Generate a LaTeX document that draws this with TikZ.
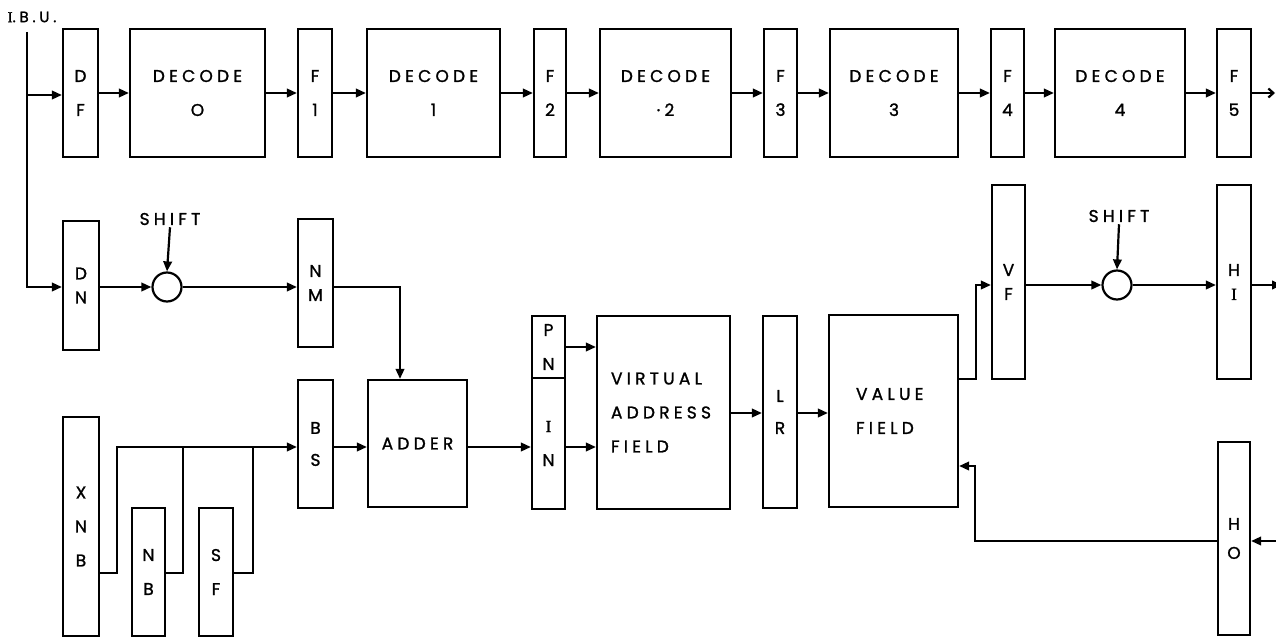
\documentclass[tikz,border=0pt]{standalone}
\usepackage{fontspec}
\newfontfamily\lab[FakeBold=1.3]{Poppins}
\newfontfamily\labs[LetterSpace=25,FakeBold=1.3]{Poppins}
\newfontfamily\serI[FakeBold=1.3]{Liberation Serif}
\usetikzlibrary{arrows.meta}
\begin{document}
\begin{tikzpicture}[x=1pt,y=-1pt,
  wire/.style={line width=2.2pt},
  arr/.style={wire,-{Triangle[length=10pt,width=8.5pt]}},
  blk/.style={draw, line width=2.2pt, inner sep=0pt, align=center, font=\lab\fontsize{17}{34}\selectfont},
  sp24/.style={font=\lab\fontsize{17}{24}\selectfont},
  sp29/.style={font=\lab\fontsize{17}{29}\selectfont},
  sp32/.style={font=\lab\fontsize{17}{32}\selectfont},
  word/.style={font=\labs\fontsize{17}{34}\selectfont},
  junc/.style={draw, circle, line width=2.2pt, minimum size=29pt, inner sep=0pt},
  lbl/.style={font=\labs\fontsize{17}{19}\selectfont, inner sep=2pt}
]
\useasboundingbox (0,0) rectangle (1276,639);
% ---------- row 1
\node[blk, minimum width=35pt, minimum height=128pt] (df) at (80.5,93) {D\\F};
\node[blk, word, minimum width=135pt, minimum height=128pt] (dec0) at (197.5,93) {DECODE\\O};
\node[blk, minimum width=34pt, minimum height=128pt] (f1) at (315,93) {F\\1};
\node[blk, word, minimum width=133pt, minimum height=128pt] (dec1) at (433.5,93) {DECODE\\1};
\node[blk, minimum width=32pt, minimum height=128pt] (f2) at (550,93) {F\\2};
\node[blk, word, minimum width=131pt, minimum height=128pt] (dec2) at (665.5,93) {DECODE\\\textperiodcentered2};
\node[blk, minimum width=33pt, minimum height=128pt] (f3) at (780.5,93) {F\\3};
\node[blk, word, minimum width=128pt, minimum height=128pt] (dec3) at (894,93) {DECODE\\3};
\node[blk, minimum width=33pt, minimum height=128pt] (f4) at (1007.5,93) {F\\4};
\node[blk, word, minimum width=130pt, minimum height=128pt] (dec4) at (1120,93) {DECODE\\4};
\node[blk, minimum width=34pt, minimum height=128pt] (f5) at (1234,93) {F\\5};
% ---------- row 2
\node[blk, sp24, minimum width=36pt, minimum height=129pt] (dn) at (81,285.5) {D\\N};
\node[junc] (c1) at (167,287) {};
\node[lbl] (s1) at (170,219) {SHIFT};
\node[blk, sp24, minimum width=35pt, minimum height=128pt] (nm) at (315.5,283) {N\\M};
\node[blk, sp24, minimum width=33pt, minimum height=194pt] (vf) at (1008.5,282) {V\\F};
\node[junc] (c2) at (1117,285) {};
\node[lbl] (s2) at (1119,216) {SHIFT};
\node[blk, sp24, minimum width=34pt, minimum height=194pt] (hi) at (1234,282) {H\\{\serI I}};
% ---------- row 3
\node[blk, word, minimum width=99pt, minimum height=127pt] (adder) at (417.5,443.5) {ADDER};
\node[blk, sp32, minimum width=35pt, minimum height=128pt] (bs) at (315.5,444) {B\\S};
\node[blk, minimum width=36pt, minimum height=219pt] (xnb) at (81,526.5) {X\\N\\B};
\node[blk, minimum width=33pt, minimum height=128pt] (nb) at (148.5,572) {N\\B};
\node[blk, minimum width=34pt, minimum height=128pt] (sf) at (216,572) {S\\F};
\node[blk, minimum width=33pt, minimum height=62pt] (pn) at (548.5,347) {P\\N};
\node[blk, minimum width=33pt, minimum height=131pt] (in) at (548.5,443.5) {{\serI I}\\N};
\node[blk, word, minimum width=133pt, minimum height=193pt, text width=105pt, inner xsep=14pt, align=left] (vaf) at (663.5,412.5) {VIRTUAL\\ADDRESS\\FIELD};
\node[blk, sp32, minimum width=34pt, minimum height=192pt] (lr) at (780,412) {L\\R};
\node[blk, word, minimum width=129pt, minimum height=192pt, text width=75pt, inner xsep=27pt, align=left] (val) at (893.5,411) {VALUE\\FIELD};
\node[blk, sp29, minimum width=32pt, minimum height=193pt] (ho) at (1234,538.5) {H\\O};
% ---------- I.B.U.
\node[font=\labs\fontsize{15}{17}\selectfont, inner sep=0pt] (ibu) at (32,17) {{\serI I}.B.U.};
\coordinate (ibut) at (27,32);
\coordinate (ibub) at (27,95);
\coordinate (ibuc) at (27,287);
\draw[arr] (ibut) -- (ibuc) -- (dn.west |- ibuc);
\draw[arr] (ibub) -- (df.west |- ibub);
% ---------- row 1 connectors
\foreach \a/\b in {df/dec0,dec0/f1,f1/dec1,dec1/f2,f2/dec2,dec2/f3,f3/dec3,dec3/f4,f4/dec4,dec4/f5}
  \draw[arr] (\a) -- (\b);
\coordinate (out1) at (1275,93);
\draw[wire,-{Straight Barb[length=5pt,width=9pt]}] (f5.east) -- (out1);
% ---------- row 2 connectors
\draw[arr] (dn.east |- c1) -- (c1.west);
\draw[arr] (s1.south) -- (c1.north);
\draw[arr] (c1.east) -- (c1 -| nm.west);
\coordinate (ka) at (400,287);
\draw[arr] (nm.east |- ka) -- (ka) -- (ka |- adder.north);
\draw[arr] (vf.east |- c2) -- (c2.west);
\draw[arr] (s2.south) -- (c2.north);
\draw[arr] (c2.east) -- (c2 -| hi.west);
\coordinate (out2) at (1282,285);
\draw[arr] (hi.east |- out2) -- (out2);
% ---------- row 3 connectors
\coordinate (bus) at (0,447);
\coordinate (k1) at (117,573);
\coordinate (k2) at (183,573);
\coordinate (k3) at (253,573);
\draw[arr] (xnb.east |- k1) -- (k1) -- (k1 |- bus) -- (bs.west |- bus);
\draw[wire] (nb.east |- k2) -- (k2) -- (k2 |- bus);
\draw[wire] (sf.east |- k3) -- (k3) -- (k3 |- bus);
\draw[arr] (bs.east |- bus) -- (adder.west |- bus);
\draw[arr] (adder.east |- bus) -- (in.west |- bus);
\draw[arr] (in.east |- bus) -- (vaf.west |- bus);
\draw[arr] (pn.east) -- (pn.east -| vaf.west);
\coordinate (mid) at (0,413);
\draw[arr] (vaf.east |- mid) -- (lr.west |- mid);
\draw[arr] (lr.east |- mid) -- (val.west |- mid);
\coordinate (v1) at (976,379);
\coordinate (v2) at (976,285);
\draw[arr] (val.east |- v1) -- (v1) -- (v2) -- (vf.west |- v2);
\coordinate (in2) at (1276,541);
\draw[arr] (in2) -- (ho.east |- in2);
\coordinate (h1) at (975,541);
\coordinate (h2) at (975,466);
\draw[arr] (ho.west |- h1) -- (h1) -- (h2) -- (val.east |- h2);
\end{tikzpicture}
\end{document}
